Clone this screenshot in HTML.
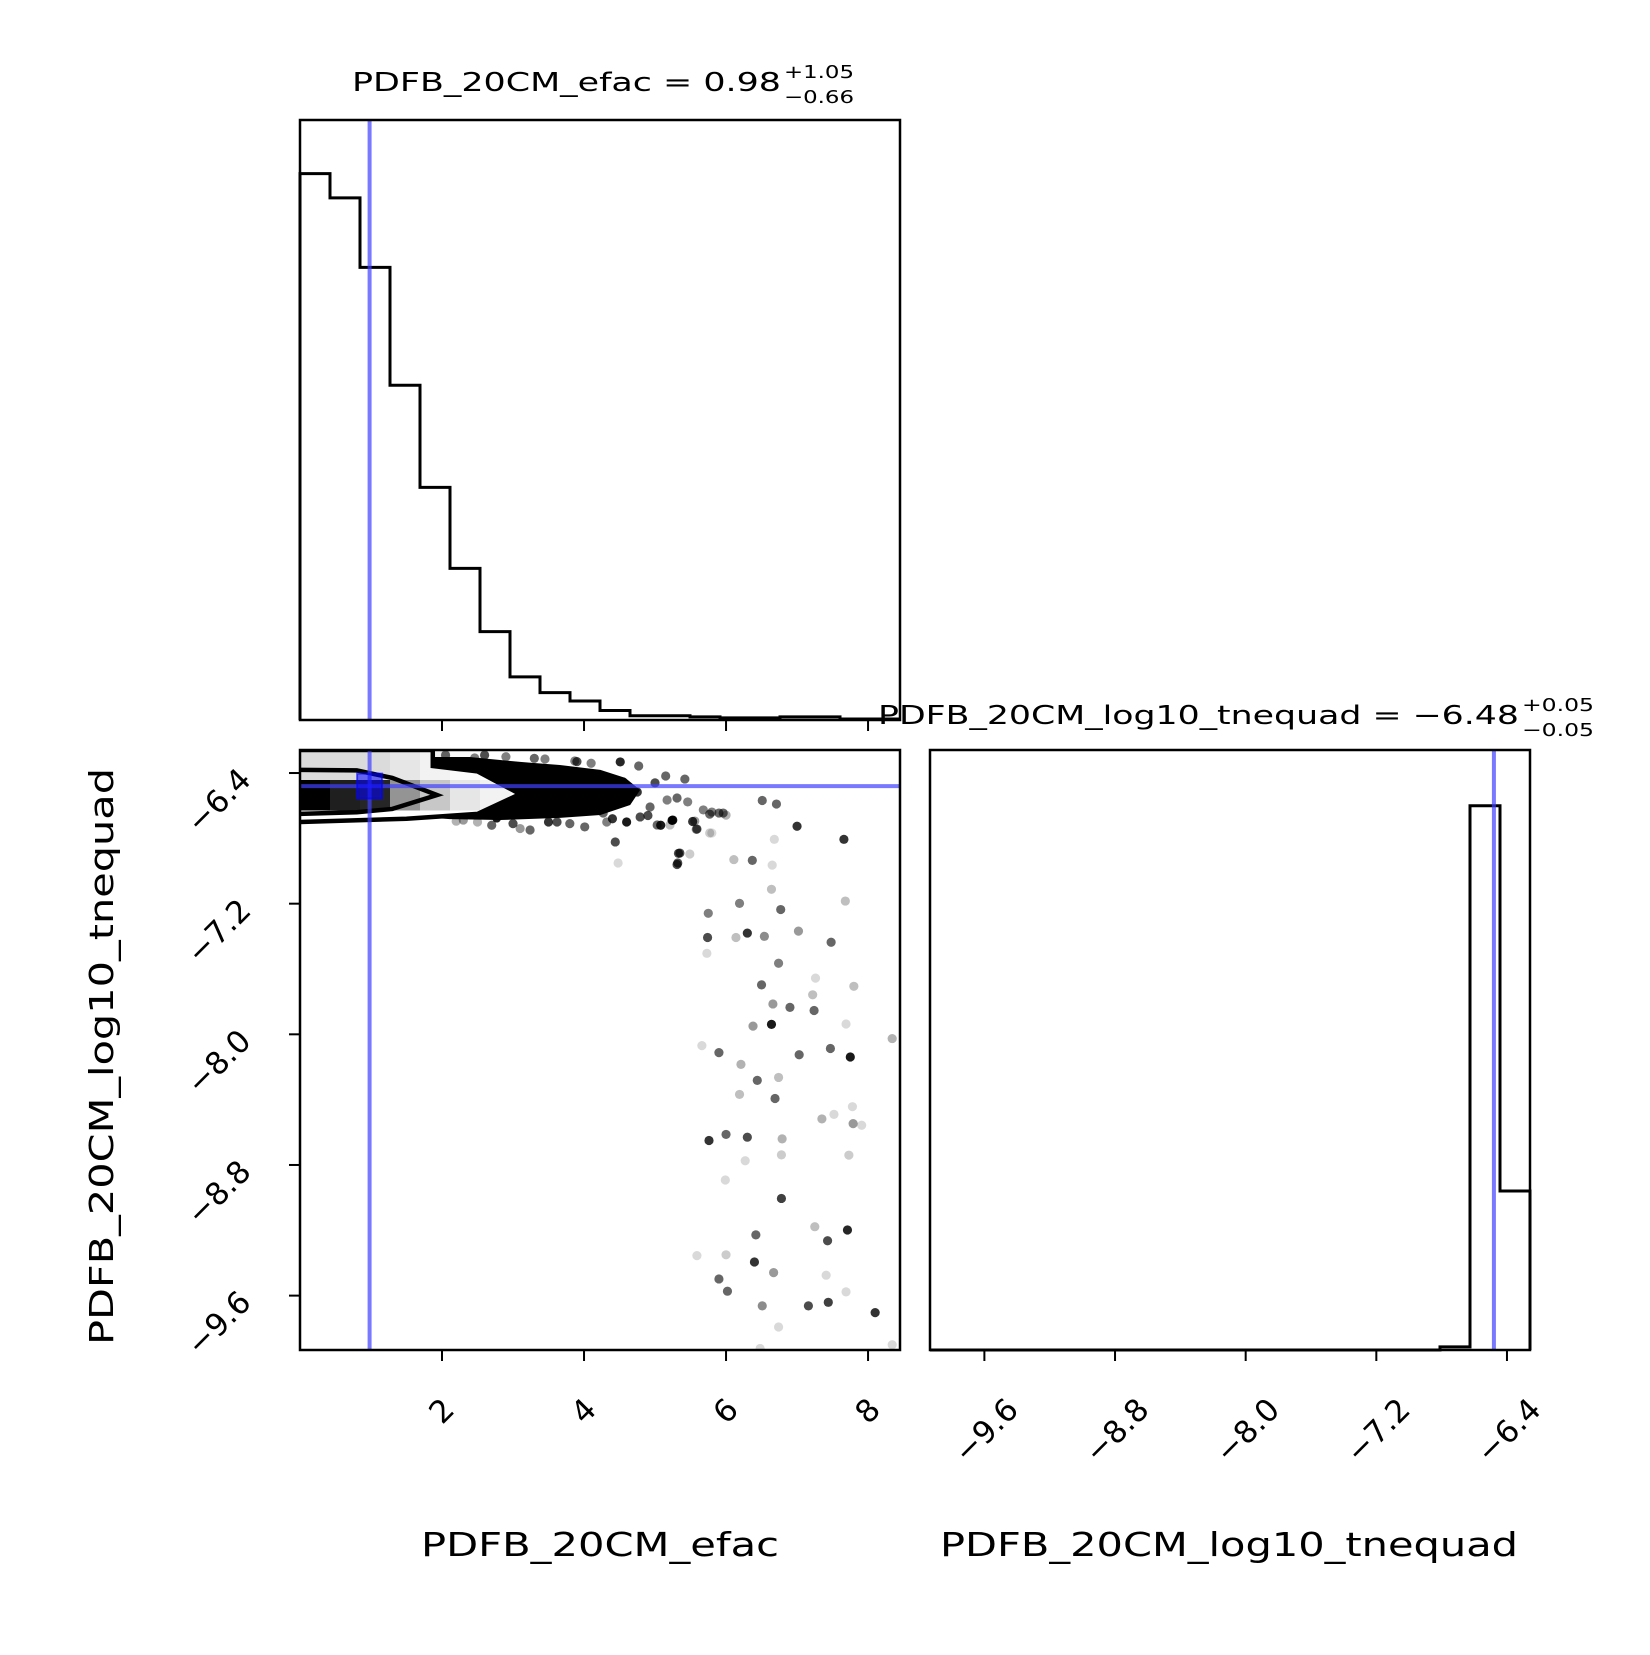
<!DOCTYPE html>
<html><head><meta charset="utf-8"><style>
html,body{margin:0;padding:0;background:#fff;}
svg text{font-family:"DejaVu Sans","Liberation Sans",sans-serif;}
</style></head><body>
<svg id="chart" width="1650" height="1650" viewBox="0 0 1650 1650" xmlns="http://www.w3.org/2000/svg">
<rect x="0" y="0" width="1650" height="1650" fill="#fff"/>
</svg>
<script>
// ---- data ----
const efacRange = [0.0, 8.45];
const tneRange = [-9.933, -6.259];
const efacTicks = [2, 4, 6, 8];
const efacTickLabels = ["2", "4", "6", "8"];
const tneTicks = [-9.6, -8.8, -8.0, -7.2, -6.4];
const tneTickLabels = ["\u22129.6", "\u22128.8", "\u22128.0", "\u22127.2", "\u22126.4"];
const efacHist = [519,496,430,318,221,144,84,41,26,18,9,4,4,3,2,2,3,3,1,1];
const tneHist = [0,0,0,0,0,0,0,0,0,0,0,0,0,0,0,0,0,3,517,151];
const histMax = 570;
const efacMedian = 0.98;
const tneMedian = -6.48;
// 2D histogram densities (top rows, left columns)
const densRowTop = [0.14,0.14,0.14,0.1,0.05,0.02];
const densRowMid = [1.0,0.88,0.85,0.42,0.22,0.1,0.05];
// dense blob outline (efac, tnequad)
const blobX = [1.87,2.39,3.10,3.66,4.23,4.58,4.79,4.65,4.23,3.66,2.82,2.11,1.87];
const blobY = [-6.302,-6.302,-6.332,-6.351,-6.381,-6.430,-6.504,-6.596,-6.657,-6.675,-6.688,-6.682,-6.675];
// contours
const innerX = [0,0.8,1.3,1.93,1.3,0.8,0];
const innerY = [-6.381,-6.384,-6.43,-6.535,-6.62,-6.64,-6.65];
const outerX = [0,1.87,1.87,2.5,3.1,2.5,1.5,0];
const outerY = [-6.259,-6.259,-6.357,-6.39,-6.529,-6.65,-6.68,-6.70];
// scatter points
const ptX = [6.51,6.71,7.00,7.66,5.33,5.31,6.37,6.11,6.65,6.64,6.19,6.77,5.75,5.74,6.14,6.30,6.54,7.02,7.48,5.73,6.74,6.50,6.66,6.90,7.24,6.64,6.38,7.69,5.66,5.90,7.03,7.47,7.75,8.34,6.21,6.44,6.74,6.69,6.19,7.35,7.79,5.76,6.00,6.30,6.79,6.78,7.73,6.27,5.99,6.78,6.42,7.25,7.43,7.71,5.59,6.00,6.40,6.67,5.90,6.02,6.51,7.16,7.44,8.10,6.74,7.41,7.69,8.34,6.48,7.78,7.52,7.91,7.26,7.80,7.22,7.68,6.68,5.49,5.77,6.00,5.58,5.53,5.24,5.08,5.77,5.90,
 2.46,3.45,3.87,4.51,4.77,5.15,5.42,5.31,5.25,5.56,5.59,5.80,5.80,5.96,4.44,5.35,5.32,4.48,4.01,3.24,3.62,2.77,2.30,5.03,4.79,4.93,4.75,4.55,4.23,5.17,5.46,5.68,5.21,4.32,4.27,
 2.05,2.6,2.9,3.3,3.9,4.1,2.5,3.0,3.5,3.8,4.4,4.9,4.6,5.0,2.2,2.7,3.1];
const ptY = [-6.568,-6.590,-6.726,-6.806,-6.892,-6.960,-6.935,-6.93,-6.964,-7.112,-7.198,-7.236,-7.259,-7.407,-7.407,-7.38,-7.40,-7.368,-7.436,-7.504,-7.565,-7.697,-7.814,-7.835,-7.854,-7.939,-7.95,-7.937,-8.069,-8.112,-8.125,-8.087,-8.139,-8.026,-8.184,-8.282,-8.264,-8.393,-8.368,-8.518,-8.547,-8.650,-8.613,-8.63,-8.64,-8.738,-8.74,-8.774,-8.892,-9.005,-9.228,-9.178,-9.264,-9.198,-9.355,-9.35,-9.394,-9.459,-9.498,-9.573,-9.663,-9.663,-9.641,-9.704,-9.792,-9.475,-9.577,-9.901,-9.924,-8.443,-8.49,-8.557,-7.656,-7.706,-7.758,-7.184,-6.806,-6.896,-6.767,-6.658,-6.745,-6.697,-6.69,-6.72,-6.652,-6.645,
 -6.308,-6.314,-6.326,-6.332,-6.357,-6.418,-6.437,-6.553,-6.688,-6.694,-6.743,-6.767,-6.639,-6.645,-6.822,-6.89,-6.951,-6.951,-6.73,-6.749,-6.70,-6.675,-6.688,-6.718,-6.669,-6.608,-6.516,-6.455,-6.412,-6.565,-6.577,-6.626,-6.718,-6.70,-6.645,
 -6.29,-6.29,-6.30,-6.31,-6.33,-6.34,-6.70,-6.71,-6.70,-6.71,-6.68,-6.66,-6.70,-6.46,-6.695,-6.72,-6.74];
const ptA = [0.6,0.6,0.8,0.8,0.7,0.7,0.6,0.25,0.15,0.25,0.5,0.6,0.5,0.7,0.25,0.8,0.45,0.4,0.6,0.15,0.5,0.6,0.4,0.6,0.6,0.9,0.4,0.15,0.15,0.6,0.6,0.6,0.9,0.3,0.3,0.6,0.25,0.6,0.25,0.3,0.4,0.8,0.6,0.7,0.3,0.2,0.2,0.15,0.15,0.75,0.6,0.25,0.7,0.85,0.15,0.2,0.8,0.4,0.6,0.6,0.45,0.7,0.75,0.8,0.15,0.15,0.15,0.15,0.15,0.15,0.15,0.15,0.15,0.25,0.25,0.25,0.15,0.2,0.2,0.3,0.4,0.8,0.9,0.9,0.6,0.6,
 0.5,0.5,0.5,0.85,0.6,0.6,0.6,0.6,0.9,0.4,0.7,0.15,0.5,0.6,0.7,0.7,0.7,0.15,0.6,0.6,0.7,0.9,0.4,0.6,0.7,0.6,0.8,0.7,0.7,0.5,0.5,0.5,0.25,0.5,0.6,
 0.6,0.7,0.5,0.6,0.7,0.5,0.3,0.7,0.8,0.6,0.8,0.7,0.9,0.7,0.3,0.6,0.4];

// ---- layout ----
const NS = "http://www.w3.org/2000/svg";
const svg = document.getElementById('chart');
const P = { L:300, R:900, L2:930, R2:1530, T1:120, B1:720, T2:750, B2:1350 };
function el(tag, attrs, parent){ const e=document.createElementNS(NS,tag); for(const k in attrs) e.setAttribute(k,attrs[k]); (parent||svg).appendChild(e); return e; }
const xE = v => P.L + (v-efacRange[0])/(efacRange[1]-efacRange[0])*(P.R-P.L);
const xT = v => P.L2 + (v-tneRange[0])/(tneRange[1]-tneRange[0])*(P.R2-P.L2);
const yT = v => P.T2 + (tneRange[1]-v)/(tneRange[1]-tneRange[0])*(P.B2-P.T2);
const yH1 = c => P.B1 - c/histMax*(P.B1-P.T1);
const yH2 = c => P.B2 - c/histMax*(P.B2-P.T2);

// ---- top-left histogram ----
const g1 = el('g',{});  
{
  const n=efacHist.length, w=(efacRange[1]-efacRange[0])/n;
  let d='M'+xE(efacRange[0])+','+P.B1;
  efacHist.forEach((c,i)=>{ const x0=xE(efacRange[0]+i*w), x1=xE(efacRange[0]+(i+1)*w); d+=' L'+x0+','+yH1(c)+' L'+x1+','+yH1(c); });
  const h=el('path',{d:d,fill:'none',stroke:'#000','stroke-width':3},g1);
   
  const ml=el('line',{x1:xE(efacMedian),x2:xE(efacMedian),y1:P.T1,y2:P.B1,stroke:'#4040ff','stroke-opacity':0.7,'stroke-width':4},g1);
   
  const fr=el('rect',{x:P.L,y:P.T1,width:P.R-P.L,height:P.B1-P.T1,fill:'none',stroke:'#000','stroke-width':2.5},g1);
   
  efacTicks.forEach(t=>{ const tk=el('line',{x1:xE(t),x2:xE(t),y1:P.B1,y2:P.B1+11,stroke:'#000','stroke-width':2},g1);
      });
}

// ---- 2D panel ----
const g2 = el('g',{});  
{
  const cp=el('clipPath',{id:'clip2d'},g2); el('rect',{x:P.L,y:P.T2,width:P.R-P.L,height:P.B2-P.T2},cp);
  const inner=el('g',{'clip-path':'url(#clip2d)'},g2);
  const cw=(efacRange[1]-efacRange[0])/20, ch=(tneRange[1]-tneRange[0])/20;
  const cell=(i,row,v)=>{ const g=Math.round(255*(1-v));
    const r=el('rect',{x:xE(efacRange[0]+i*cw),y:yT(tneRange[1]-row*ch),width:xE(efacRange[0]+(i+1)*cw)-xE(efacRange[0]+i*cw)+0.5,height:yT(tneRange[1]-(row+1)*ch)-yT(tneRange[1]-row*ch)+0.5,fill:'rgb('+g+','+g+','+g+')'},inner);
      };
  densRowTop.forEach((v,i)=>cell(i,0,v));
  densRowMid.forEach((v,i)=>cell(i,1,v));
  const bp=blobX.map((x,i)=>xE(x)+','+yT(blobY[i])).join(' ');
  const blob=el('polygon',{points:bp,fill:'#000'},inner);
   
  ptX.forEach((x,i)=>{ const c=el('circle',{cx:xE(x),cy:yT(ptY[i]),r:4.6,fill:'#000','fill-opacity':ptA[i]},inner);
      });
  const op=outerX.map((x,i)=>xE(x)+','+yT(outerY[i])).join(' ');
  const oc=el('clipPath',{id:'clipOuter'},g2); el('polygon',{points:op},oc);
  const ig=el('g',{'clip-path':'url(#clipOuter)'},inner);
  el('polygon',{points:op,fill:'#fff'},ig);
  densRowTop.forEach((v,i)=>{ const g=Math.round(255*(1-v)); el('rect',{x:xE(i*cw),y:yT(tneRange[1]),width:30.5,height:30.5,fill:'rgb('+g+','+g+','+g+')'},ig); });
  densRowMid.forEach((v,i)=>{ const g=Math.round(255*(1-v)); el('rect',{x:xE(i*cw),y:yT(tneRange[1]-ch),width:30.5,height:30.5,fill:'rgb('+g+','+g+','+g+')'},ig); });
  const outerLine=el('polyline',{points:op,fill:'none',stroke:'#000','stroke-width':4.5},inner);
   
  const ip=innerX.map((x,i)=>xE(x)+','+yT(innerY[i])).join(' ');
  const innerLine=el('polyline',{points:ip,fill:'none',stroke:'#000','stroke-width':4.5},inner);
   
  const vl=el('line',{x1:xE(efacMedian),x2:xE(efacMedian),y1:P.T2,y2:P.B2,stroke:'#4040ff','stroke-opacity':0.7,'stroke-width':4},inner);
   
  const hl=el('line',{x1:P.L,x2:P.R,y1:yT(tneMedian),y2:yT(tneMedian),stroke:'#4040ff','stroke-opacity':0.7,'stroke-width':4},inner);
   
  const sq=el('rect',{x:xE(efacMedian)-12.5,y:yT(tneMedian)-12.5,width:25,height:25,fill:'#0000ff','fill-opacity':0.55,stroke:'#0000ff','stroke-opacity':0.6,'stroke-width':2},inner);
   
  const fr=el('rect',{x:P.L,y:P.T2,width:P.R-P.L,height:P.B2-P.T2,fill:'none',stroke:'#000','stroke-width':2.5},g2);
   
  efacTicks.forEach((t,i)=>{ const tk=el('line',{x1:xE(t),x2:xE(t),y1:P.B2,y2:P.B2+11,stroke:'#000','stroke-width':2},g2);
     
    const lab=efacTickLabels[i]; const w=lab.length*18.5+(lab.indexOf('\u2212')>=0?8:0); const side=(w+22)*0.707;
    const tx=el('text',{x:xE(t),y:1397+side/2,'font-size':31,'text-anchor':'middle','dominant-baseline':'central',transform:'rotate(-45 '+xE(t)+' '+(1397+side/2)+')'},g2);
    tx.textContent=lab;   });
  tneTicks.forEach((t,i)=>{ const tk=el('line',{x1:P.L-11,x2:P.L,y1:yT(t),y2:yT(t),stroke:'#000','stroke-width':2},g2);
     
    const cx=219, cy=yT(t)+28;
    const tx=el('text',{x:cx,y:cy,'font-size':31,'text-anchor':'middle','dominant-baseline':'central',transform:'rotate(-45 '+cx+' '+cy+')'},g2);
    tx.textContent=tneTickLabels[i];   });
}

// ---- bottom-right histogram ----
const g3 = el('g',{});  
{
  const n=tneHist.length, w=(tneRange[1]-tneRange[0])/n;
  let d='M'+xT(tneRange[0])+','+P.B2;
  tneHist.forEach((c,i)=>{ const x0=xT(tneRange[0]+i*w), x1=xT(tneRange[0]+(i+1)*w); d+=' L'+x0+','+yH2(c)+' L'+x1+','+yH2(c); });
  d+=' L'+xT(tneRange[1])+','+P.B2;
  const h=el('path',{d:d,fill:'none',stroke:'#000','stroke-width':3},g3);
   
  const ml=el('line',{x1:xT(tneMedian),x2:xT(tneMedian),y1:P.T2,y2:P.B2,stroke:'#4040ff','stroke-opacity':0.7,'stroke-width':4},g3);
   
  const fr=el('rect',{x:P.L2,y:P.T2,width:P.R2-P.L2,height:P.B2-P.T2,fill:'none',stroke:'#000','stroke-width':2.5},g3);
   
  tneTicks.forEach((t,i)=>{ const tk=el('line',{x1:xT(t),x2:xT(t),y1:P.B2,y2:P.B2+11,stroke:'#000','stroke-width':2},g3);
     
    const cy=1397+34, cx=xT(t)+2;
    const tx=el('text',{x:cx,y:cy,'font-size':31,'text-anchor':'middle','dominant-baseline':'central',transform:'rotate(-45 '+cx+' '+cy+')'},g3);
    tx.textContent=tneTickLabels[i];   });
}
</script>
<script>
(function(){
  const NS="http://www.w3.org/2000/svg", svg=document.getElementById('chart');
  function t(x,y,s,str,name,extra){ const e=document.createElementNS(NS,'text'); e.setAttribute('x',x); e.setAttribute('y',y); e.setAttribute('font-size',s);
    for(const k in (extra||{})) e.setAttribute(k,extra[k]); e.textContent=str;
    
    
    svg.appendChild(e); return e; }
  t(352,91,26,'PDFB_20CM_efac = 0.98','efac-title',{textLength:429,lengthAdjust:'spacingAndGlyphs'});
  t(784,78,18,'+1.05','efac-title-upper',{textLength:70,lengthAdjust:'spacingAndGlyphs'});
  t(784,103,18,'\u22120.66','efac-title-lower',{textLength:70,lengthAdjust:'spacingAndGlyphs'});
  t(878,724,26,'PDFB_20CM_log10_tnequad = \u22126.48','tnequad-title',{textLength:641,lengthAdjust:'spacingAndGlyphs'});
  t(1522,711,18,'+0.05','tnequad-title-upper',{textLength:72,lengthAdjust:'spacingAndGlyphs'});
  t(1522,736,18,'\u22120.05','tnequad-title-lower',{textLength:72,lengthAdjust:'spacingAndGlyphs'});
  t(421,1556,33,'PDFB_20CM_efac','efac-axis-label',{textLength:358,lengthAdjust:'spacingAndGlyphs'});
  t(940,1556,33,'PDFB_20CM_log10_tnequad','tnequad-axis-label',{textLength:578,lengthAdjust:'spacingAndGlyphs'});
  t(113,1345,33,'PDFB_20CM_log10_tnequad','tnequad-y-axis-label',{textLength:577,lengthAdjust:'spacingAndGlyphs',transform:'rotate(-90 113 1345)'});
})();
</script>
</body></html>
